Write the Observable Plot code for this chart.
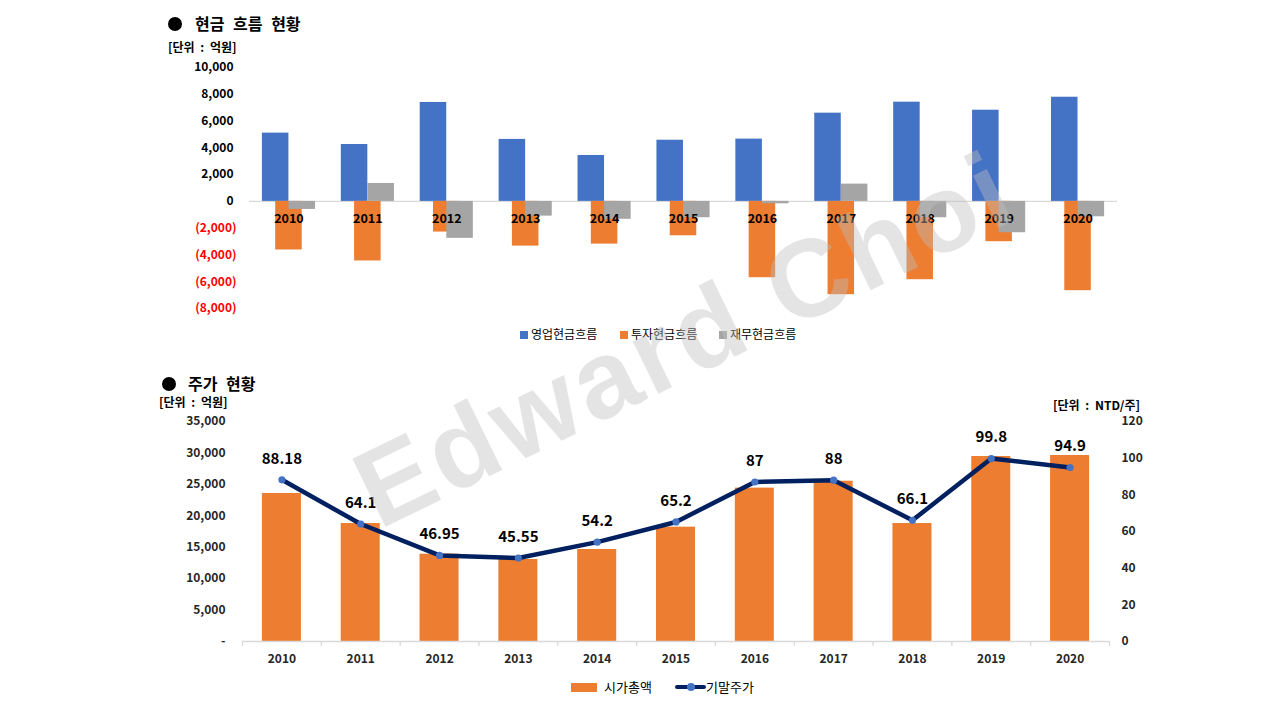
<!DOCTYPE html>
<html><head><meta charset="utf-8">
<script src="https://cdn.jsdelivr.net/npm/d3@7"></script>
<script src="https://cdn.jsdelivr.net/npm/@observablehq/plot@0.6"></script>
<style>
body{margin:0;width:1280px;height:720px;position:relative;background:#fff;font-family:"Noto Sans CJK KR","Noto Sans",sans-serif;overflow:hidden}
.abs{position:absolute;white-space:nowrap;line-height:1}
.title{font-size:16px;font-weight:bold;color:#000;word-spacing:5px}
.unit{font-size:12px;font-weight:bold;color:#000;word-spacing:3px}
.dot{position:absolute;width:14px;height:14px;border-radius:50%;background:#000}
.leg{font-size:12px;color:#000}
.sw{position:absolute;width:7.5px;height:7.5px}
svg text{font-family:"Noto Sans CJK KR","Noto Sans",sans-serif}
.bold-ax g[aria-label$="tick label"] text{font-weight:bold}
#wm{position:absolute;left:379px;top:437px;transform-origin:0px 93px;transform:rotate(-26deg);font-family:"Liberation Sans",Arial,sans-serif;font-weight:bold;font-size:110px;letter-spacing:4px;color:rgba(190,190,190,0.42);white-space:nowrap;pointer-events:none;line-height:1}
</style></head><body>
<div class="dot" style="left:168px;top:17px"></div>
<div class="abs title" style="left:195px;top:15px">현금 흐름 현황</div>
<div class="abs unit" style="left:168px;top:41px">[단위 : 억원]</div>
<div id="c1" class="abs bold-ax" style="left:0;top:0"></div>
<div class="sw" style="left:520px;top:331px;background:#4472C4"></div>
<div class="abs leg" style="left:531px;top:328px">영업현금흐름</div>
<div class="sw" style="left:620px;top:331px;background:#ED7D31"></div>
<div class="abs leg" style="left:631px;top:328px">투자현금흐름</div>
<div class="sw" style="left:719px;top:331px;background:#A5A5A5"></div>
<div class="abs leg" style="left:730px;top:328px">재무현금흐름</div>

<div class="dot" style="left:162px;top:377px"></div>
<div class="abs title" style="left:188px;top:375px">주가 현황</div>
<div class="abs unit" style="left:159px;top:396px">[단위 : 억원]</div>
<div class="abs unit" style="left:1053px;top:399px">[단위 : NTD/주]</div>
<div id="c2" class="abs bold-ax" style="left:0;top:360px"></div>
<div class="abs" style="left:571px;top:683px;width:26px;height:9px;background:#ED7D31"></div>
<div class="abs leg" style="left:604px;top:680px;font-size:13px">시가총액</div>
<div class="abs" style="left:675px;top:685px;width:31px;height:4px;border-radius:2px;background:#002060"></div>
<div class="abs" style="left:687px;top:683px;width:8px;height:8px;border-radius:50%;background:#4472C4"></div>
<div class="abs leg" style="left:706px;top:680px;font-size:13px">기말주가</div>
<div id="wm">Edward Choi</div>
<script>
const years = ["2010","2011","2012","2013","2014","2015","2016","2017","2018","2019","2020"];
const operatingCF = [5100, 4250, 7390, 4630, 3430, 4570, 4650, 6590, 7410, 6810, 7780];
const investingCF = [-3630, -4450, -2290, -3340, -3190, -2570, -5700, -6970, -5850, -3010, -6670];
const financingCF = [-600, 1340, -2760, -1100, -1340, -1220, -180, 1290, -1220, -2340, -1150];
const marketCap = [23550, 18770, 13890, 13050, 14640, 18190, 24400, 25500, 18770, 29430, 29590];
const closingPrice = [88.18, 64.1, 46.95, 45.55, 54.2, 65.2, 87, 88, 66.1, 99.8, 94.9];
const cfTicksPos = [0, 2000, 4000, 6000, 8000, 10000];
const cfTicksNeg = [-2000, -4000, -6000, -8000];
const capTicks = [0, 5000, 10000, 15000, 20000, 25000, 30000, 35000];
const priceTicks = [0, 20, 40, 60, 80, 100, 120];

const font = '"Noto Sans CJK KR","Noto Sans",sans-serif';
const fmt = d3.format(",");
const cf = years.map((y, i) => ({year: y, op: operatingCF[i], inv: investingCF[i], fin: financingCF[i]}));

const p1 = Plot.plot({
  width: 1280, height: 320,
  marginLeft: 249, marginRight: 163, marginTop: 67, marginBottom: 12,
  style: {fontFamily: font, fontSize: "12px", background: "transparent", overflow: "visible", color: "#000"},
  x: {domain: years, paddingInner: 0.664, paddingOuter: 0.332, round: false, axis: null},
  y: {domain: [-8000, 10000]},
  marks: [
    Plot.ruleY([0], {stroke: "#D9D9D9", strokeWidth: 1.3}),
    Plot.barY(cf, {x: "year", y: "op", fill: "#4472C4", dx: -13.3}),
    Plot.barY(cf, {x: "year", y: "inv", fill: "#ED7D31"}),
    Plot.barY(cf, {x: "year", y: "fin", fill: "#A5A5A5", dx: 13.3}),
    Plot.text(cf, {x: "year", y: () => 0, text: "year", dy: 17.5, fontWeight: "bold", fill: "#000", fontSize: 12.5}),
    Plot.axisY(cfTicksPos, {anchor: "left", tickSize: 0, tickPadding: 16, tickFormat: fmt, fill: "#000", fontWeight: "bold", label: null}),
    Plot.axisY(cfTicksNeg, {anchor: "left", tickSize: 0, tickPadding: 13, tickFormat: d => "(" + fmt(-d) + ")", fill: "#FF0000", fontWeight: "bold", label: null})
  ]
});
document.getElementById("c1").appendChild(p1);

const k = 35000 / 120;
const sp = years.map((y, i) => ({year: y, cap: marketCap[i], price: closingPrice[i]}));
const p2 = Plot.plot({
  width: 1280, height: 320,
  marginLeft: 242, marginRight: 171, marginTop: 61, marginBottom: 39,
  style: {fontFamily: font, fontSize: "12px", background: "transparent", overflow: "visible", color: "#404040"},
  x: {domain: years, paddingInner: 0.505, paddingOuter: 0.2525, round: false},
  y: {domain: [0, 35000]},
  marks: [
    Plot.barY(sp, {x: "year", y: "cap", fill: "#ED7D31"}),
    Plot.ruleY([0], {stroke: "#D9D9D9", strokeWidth: 1.3}),
    Plot.ruleX(years, {x: d => d, dx: -39.4, y1: 0, y2: -800, stroke: "#D9D9D9", strokeWidth: 1.3}),
    Plot.ruleX([years[years.length - 1]], {x: d => d, dx: 39.4, y1: 0, y2: -800, stroke: "#D9D9D9", strokeWidth: 1.3}),
    Plot.axisX({tickSize: 0, tickPadding: 13, fill: "#262626", fontWeight: "bold", label: null}),
    Plot.axisY(capTicks, {anchor: "left", tickSize: 0, tickPadding: 17, tickFormat: d => d === 0 ? "-" : fmt(d), fill: "#262626", fontWeight: "bold", label: null}),
    Plot.axisY(priceTicks.map(p => p * k), {anchor: "right", tickSize: 0, tickPadding: 12, tickFormat: d => String(Math.round(d / k)), fill: "#262626", fontWeight: "bold", label: null}),
    Plot.line(sp, {x: "year", y: d => d.price * k, stroke: "#002060", strokeWidth: 4.5, strokeLinejoin: "round"}),
    Plot.dot(sp, {x: "year", y: d => d.price * k, r: 3.6, fill: "#4472C4"}),
    Plot.text(sp, {x: "year", y: d => d.price * k, text: d => String(d.price), dy: -21, fontSize: 15, fontWeight: "bold", fill: "#000"})
  ]
});
document.getElementById("c2").appendChild(p2);
</script>
</body></html>
